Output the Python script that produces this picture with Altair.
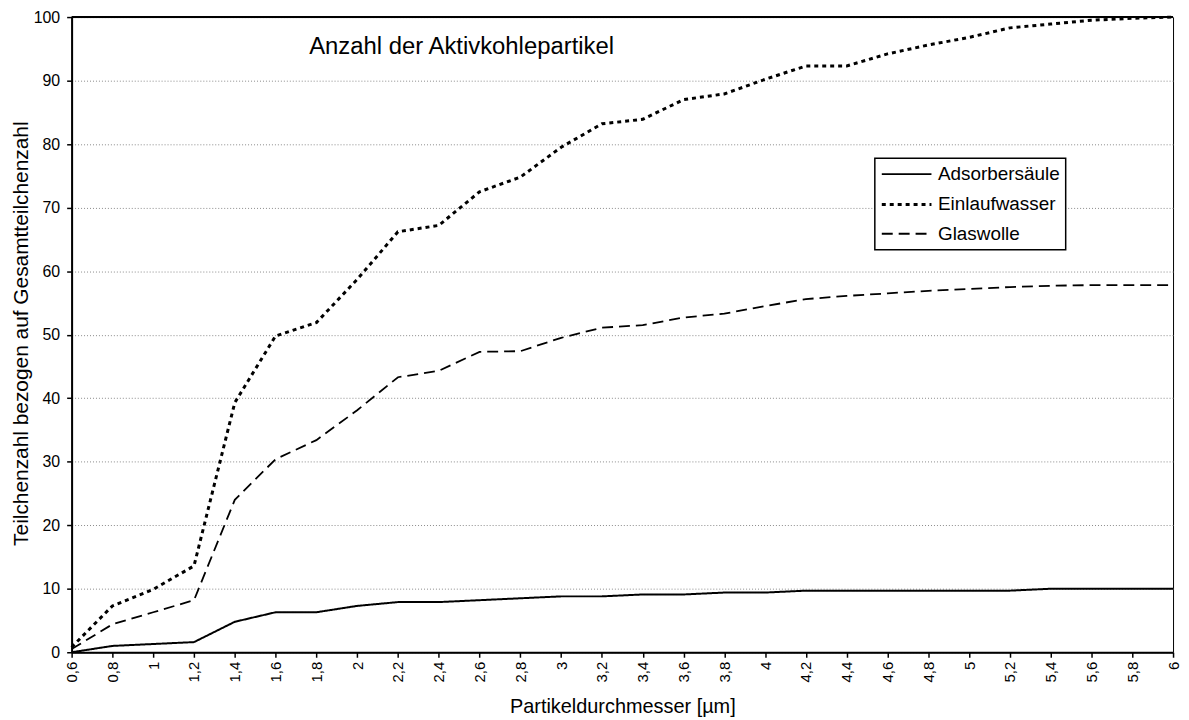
import altair as alt
import pandas as pd

# ---- data ----
durchmesser = ["0,6", "0,8", "1", "1,2", "1,4", "1,6", "1,8", "2", "2,2", "2,4",
               "2,6", "2,8", "3", "3,2", "3,4", "3,6", "3,8", "4", "4,2", "4,4",
               "4,6", "4,8", "5", "5,2", "5,4", "5,6", "5,8", "6"]

adsorbersaeule = [0, 1.0, 1.3, 1.6, 4.8, 6.3, 6.3, 7.3, 7.9, 7.9,
                  8.2, 8.5, 8.8, 8.8, 9.1, 9.1, 9.4, 9.4, 9.7, 9.7,
                  9.7, 9.7, 9.7, 9.7, 10.0, 10.0, 10.0, 10.0]

einlaufwasser = [0.8, 7.3, 9.9, 13.6, 39.3, 49.8, 51.9, 58.7, 66.2, 67.2,
                 72.5, 74.8, 79.5, 83.2, 83.9, 87.0, 87.9, 90.2, 92.3, 92.3,
                 94.2, 95.6, 96.8, 98.3, 98.9, 99.5, 99.8, 100.0]

glaswolle = [0.5, 4.4, 6.3, 8.2, 24.0, 30.4, 33.4, 38.1, 43.3, 44.3,
             47.3, 47.4, 49.5, 51.1, 51.5, 52.7, 53.3, 54.5, 55.6, 56.1,
             56.5, 56.9, 57.2, 57.5, 57.7, 57.8, 57.8, 57.8]

serien = ["Adsorbersäule", "Einlaufwasser", "Glaswolle"]
y_ticks = [0, 10, 20, 30, 40, 50, 60, 70, 80, 90, 100]

rows = []
for name, vals in zip(serien, [adsorbersaeule, einlaufwasser, glaswolle]):
    for d, v in zip(durchmesser, vals):
        rows.append({"d": d, "wert": v, "serie": name})
df = pd.DataFrame(rows)

FONT = "Liberation Sans"

lines = alt.Chart(df).mark_line(interpolate="linear", color="black").encode(
    x=alt.X("d:N", sort=durchmesser, scale=alt.Scale(type="point", padding=0),
            axis=alt.Axis(title="Partikeldurchmesser [µm]", labelAngle=270,
                          labelAlign="right", labelBaseline="middle",
                          labelFontSize=15, labelPadding=4, tickSize=5,
                          tickColor="black", tickWidth=1.5,
                          domainColor="black", domainWidth=2,
                          titleFontSize=20, titleFontWeight="normal",
                          titleBaseline="alphabetic", titleY=61,
                          labelFont=FONT, titleFont=FONT, labelColor="black",
                          titleColor="black", grid=False)),
    y=alt.Y("wert:Q", scale=alt.Scale(domain=[0, 100], nice=False),
            axis=alt.Axis(title="Teilchenzahl bezogen auf Gesamtteilchenzahl",
                          values=y_ticks, labelFontSize=16, labelPadding=7,
                          tickSize=5, tickColor="black", tickWidth=1.5,
                          domainColor="black", domainWidth=2,
                          grid=True, gridColor="#8a8a8a", gridDash=[1, 2],
                          gridWidth=1,
                          titleFontSize=21, titleFontWeight="normal",
                          titleAngle=270, titleBaseline="alphabetic",
                          titleX=-44, titleY=318, titleAlign="center",
                          labelFont=FONT, titleFont=FONT, labelColor="black",
                          titleColor="black")),
    strokeDash=alt.StrokeDash("serie:N",
                              scale=alt.Scale(domain=serien,
                                              range=[[1, 0], [4, 4], [11, 6]]),
                              legend=alt.Legend(title=None)),
    strokeWidth=alt.StrokeWidth("serie:N",
                                scale=alt.Scale(type="ordinal", domain=serien,
                                                range=[2, 3, 1.8]),
                                legend=alt.Legend(title=None)),
)

top_rule = alt.Chart(pd.DataFrame({"y": [100]})).mark_rule(
    color="black", strokeWidth=2).encode(y="y:Q")

chart = alt.layer(top_rule, lines).properties(
    width=1108, height=639,
    title=alt.TitleParams("Anzahl der Aktivkohlepartikel", anchor="start",
                          frame="group", dx=239, dy=69, offset=0,
                          baseline="alphabetic", fontSize=24,
                          fontWeight="normal", font=FONT, color="black"),
    autosize=alt.AutoSizeParams(type="none"),
    padding={"left": 64, "top": 7, "right": 8, "bottom": 63},
).configure_view(
    stroke="black", strokeWidth=1
).configure_legend(
    orient="none", legendX=808, legendY=142,
    strokeColor="black", fillColor="white", padding=5.5,
    labelFontSize=19, labelFont=FONT, labelColor="black", labelOffset=36,
    symbolType="M-1,0H4.26", symbolSize=361, symbolStrokeColor="black",
    symbolFillColor="transparent",
    rowPadding=9, cornerRadius=0, strokeWidth=1.5,
)

chart.save("out.html", embed_options={"renderer": "svg", "actions": False})
